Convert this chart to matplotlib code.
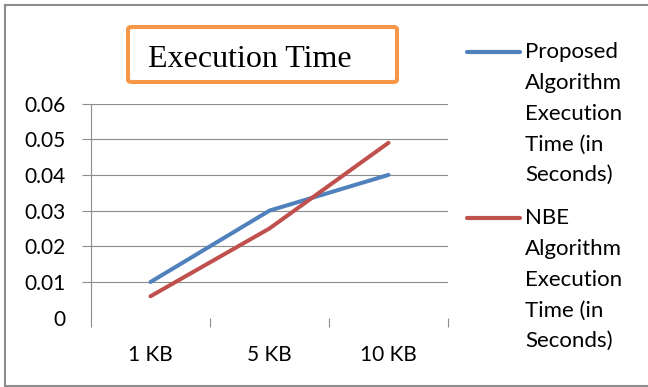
import matplotlib
matplotlib.use("Agg")
import matplotlib.pyplot as plt
from matplotlib.lines import Line2D
from matplotlib.patches import FancyBboxPatch

categories = ["1 KB", "5 KB", "10 KB"]
proposed = [0.010, 0.030, 0.040]
nbe = [0.006, 0.025, 0.049]
yticks = [0, 0.01, 0.02, 0.03, 0.04, 0.05, 0.06]
ytick_labels = ["0", "0.01", "0.02", "0.03", "0.04", "0.05", "0.06"]
legend_labels = [
    ["Proposed", "Algorithm", "Execution", "Time (in", "Seconds)"],
    ["NBE", "Algorithm", "Execution", "Time (in", "Seconds)"],
]

c_blue = "#4F81BD"
c_red = "#C0504D"
c_grid = "#8c8c8c"
c_orange = "#F79646"

W, H = 648, 387
plt.rcParams["font.family"] = ["Lato", "DejaVu Sans"]

fig = plt.figure(figsize=(W / 100, H / 100), dpi=100)
ax = fig.add_axes([91 / W, (H - 317.7) / H, (448 - 91) / W, (317.7 - 103.5) / H])

x = list(range(len(categories)))
ax.plot(x, proposed, color=c_blue, lw=2.9, solid_capstyle="round")
ax.plot(x, nbe, color=c_red, lw=2.9, solid_capstyle="round")

ax.set_xlim(-0.5, len(categories) - 0.5)
ax.set_ylim(0, 0.06)

# category boundaries get tick marks, labels sit on the centres
ax.set_xticks([i - 0.5 for i in range(len(categories) + 1)])
ax.set_xticklabels([])
ax.set_xticks(x, minor=True)
ax.set_xticklabels(categories, minor=True, fontsize=15)
ax.tick_params(axis="x", which="major", length=6.5, width=0.8, color=c_grid, direction="out")
ax.tick_params(axis="x", which="minor", length=0, pad=20)

ax.set_yticks(yticks)
ax.set_yticklabels(ytick_labels, fontsize=15)
ax.tick_params(axis="y", length=6.5, width=0.8, color=c_grid, pad=12)
ax.yaxis.get_major_ticks()[0].tick1line.set_visible(False)

for v in yticks[1:]:
    ax.axhline(v, color=c_grid, lw=0.8, zorder=0)

for s in ["top", "right", "bottom"]:
    ax.spines[s].set_visible(False)
ax.spines["left"].set_color(c_grid)
ax.spines["left"].set_linewidth(0.8)

# title box
box = FancyBboxPatch((128 / W, (H - 82) / H), (397 - 128) / W, (82 - 27) / H,
                     boxstyle="round,pad=0,rounding_size=0.006",
                     transform=fig.transFigure, facecolor="white",
                     edgecolor=c_orange, lw=2.9)
fig.add_artist(box)
fig.text(148 / W, (H - 67) / H, "Execution Time", family="Liberation Serif",
         fontsize=23, ha="left", va="baseline", color="black")

# legend
for labels, col, y0 in zip(legend_labels, [c_blue, c_red], [52, 218]):
    fig.add_artist(Line2D([467 / W, 520 / W], [(H - y0) / H] * 2, color=col,
                          lw=3, solid_capstyle="round", transform=fig.transFigure))
    for i, t in enumerate(labels):
        fig.text(525 / W, (H - y0 - i * 30.8) / H, t, fontsize=16,
                 ha="left", va="center", color="black")

# outer frame (right side cut off)
for xs, ys in [([5, 5], [5, 385.5]), ([5, W], [5, 5]), ([5, W], [385.5, 385.5])]:
    fig.add_artist(Line2D([v / W for v in xs], [(H - v) / H for v in ys],
                          color="#8c8c8c", lw=1.5, transform=fig.transFigure))

fig.savefig("out.png", dpi=100)
